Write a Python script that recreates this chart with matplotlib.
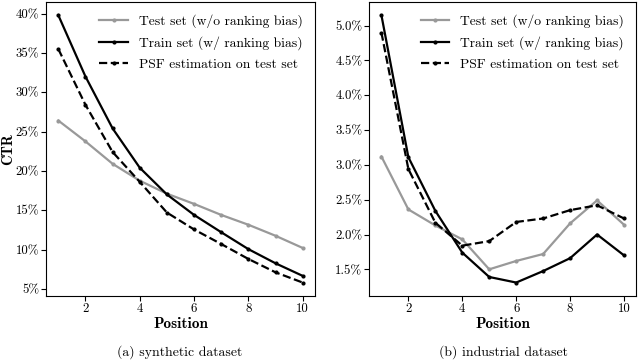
import matplotlib
matplotlib.use("Agg")
import matplotlib.pyplot as plt
from matplotlib.ticker import FuncFormatter, MultipleLocator

plt.rcParams['font.family'] = ['cmr10', 'DejaVu Serif']
plt.rcParams['mathtext.fontset'] = 'cm'
plt.rcParams['axes.unicode_minus'] = False

positions = [1, 2, 3, 4, 5, 6, 7, 8, 9, 10]

# synthetic dataset (CTR in %)
syn_test = [26.4, 23.75, 20.9, 18.75, 17.1, 15.8, 14.4, 13.15, 11.75, 10.2]
syn_train = [39.8, 32.0, 25.4, 20.4, 17.0, 14.4, 12.2, 10.05, 8.25, 6.65]
syn_psf = [35.5, 28.4, 22.4, 18.6, 14.7, 12.55, 10.7, 8.8, 7.1, 5.8]

# industrial dataset (CTR in %)
ind_test = [3.12, 2.36, 2.13, 1.93, 1.50, 1.62, 1.72, 2.16, 2.49, 2.14]
ind_train = [5.15, 3.11, 2.34, 1.74, 1.39, 1.31, 1.475, 1.66, 2.0, 1.70]
ind_psf = [4.90, 2.94, 2.17, 1.84, 1.905, 2.18, 2.23, 2.35, 2.42, 2.23]

labels = ['Test set (w/o ranking bias)',
          'Train set (w/ ranking bias)',
          'PSF estimation on test set']
captions = ['(a) synthetic dataset', '(b) industrial dataset']

fig = plt.figure(figsize=(6.4, 3.6), dpi=100)
ax1 = fig.add_axes([0.072, 0.178, 0.420, 0.817])
ax2 = fig.add_axes([0.577, 0.178, 0.417, 0.817])

for ax, test, train, psf in [(ax1, syn_test, syn_train, syn_psf),
                             (ax2, ind_test, ind_train, ind_psf)]:
    ax.plot(positions, test, color='#999999', lw=1.6, marker='.', ms=4, label=labels[0])
    ax.plot(positions, train, color='black', lw=1.6, marker='.', ms=4, label=labels[1])
    ax.plot(positions, psf, color='black', lw=1.6, ls='--', marker='.', ms=4, label=labels[2])
    ax.xaxis.set_major_locator(MultipleLocator(2))
    ax.tick_params(labelsize=9.3, length=3.5, width=0.8, pad=1.5)
    ax.set_xlabel('Position', fontsize=11, family='cmb10', labelpad=1.5)
    ax.legend(loc='upper right', frameon=False, fontsize=9.8, handlelength=2.1,
              handletextpad=0.8, borderaxespad=0.5, labelspacing=0.6)

ax1.yaxis.set_major_locator(MultipleLocator(5))
ax1.yaxis.set_major_formatter(FuncFormatter(lambda v, p: '%d%%' % v))
ax1.set_ylabel('CTR', fontsize=10.5, family='cmb10')
ax1.yaxis.set_label_coords(-0.115, 0.5)

ax2.yaxis.set_major_locator(MultipleLocator(0.5))
ax2.yaxis.set_major_formatter(FuncFormatter(lambda v, p: '%.1f%%' % v))

fig.text(0.281, 0.022, captions[0], ha='center', va='center', fontsize=9.9)
fig.text(0.786, 0.022, captions[1], ha='center', va='center', fontsize=9.9)

fig.savefig('out.png', dpi=100)
